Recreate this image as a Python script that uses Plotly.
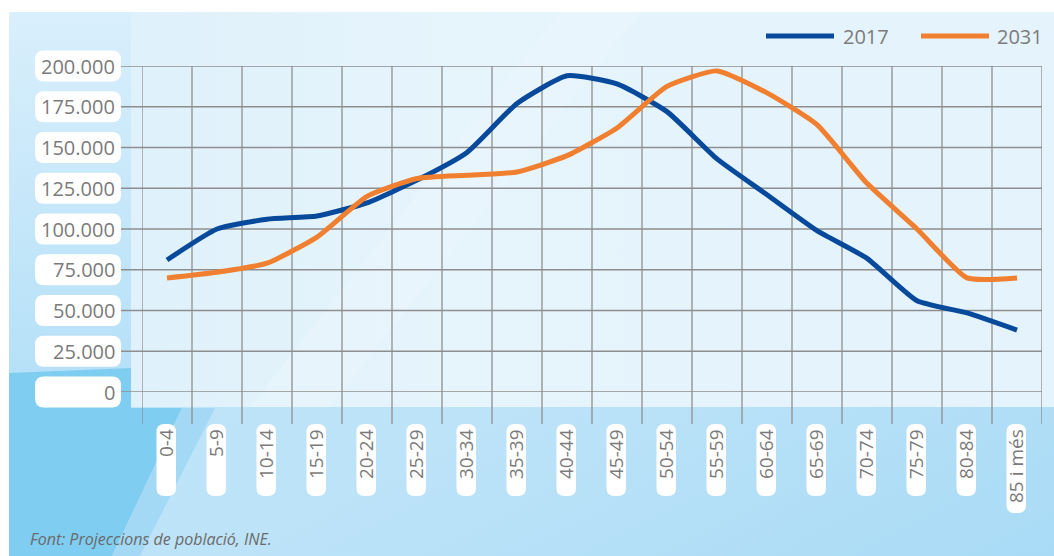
import base64
import plotly.graph_objects as go

# ---------------- data ----------------
categories = ["0-4", "5-9", "10-14", "15-19", "20-24", "25-29", "30-34", "35-39",
              "40-44", "45-49", "50-54", "55-59", "60-64", "65-69", "70-74",
              "75-79", "80-84", "85 i més"]
pop_2017 = [81000, 100000, 106000, 108000, 116000, 130000, 147000, 177000, 194000,
            189000, 172000, 143000, 121000, 99000, 82000, 56000, 48500, 38000]
pop_2031 = [70000, 73500, 79000, 95000, 120000, 131000, 133000, 135000, 145000,
            162000, 187500, 197000, 183500, 164000, 128000, 100000, 70000, 70000]
series_names = ["2017", "2031"]
y_ticks = [0, 25000, 50000, 75000, 100000, 125000, 150000, 175000, 200000]
y_tick_labels = ["0", "25.000", "50.000", "75.000", "100.000", "125.000",
                 "150.000", "175.000", "200.000"]
source_text = "Font: Projeccions de població, INE."

# ---------------- layout constants ----------------
W, H = 1054, 556
ML, MR, MT, MB = 142, 12, 66, 164
PW, PH = W - ML - MR, H - MT - MB
Y_MAX = 200000
BLUE = "#07499a"
ORANGE = "#f07f2f"
GRID = "#8e8e8e"
TXT = "#7b7b7b"
FONT = "Open Sans"


def px_x(p):
    return (p - ML) / PW


def px_y(p):
    return (H - MB - p) / PH


def rbox(x0, x1, y0, y1, rx, ry):
    return (f"M {x0 + rx},{y0} L {x1 - rx},{y0} Q {x1},{y0} {x1},{y0 + ry} "
            f"L {x1},{y1 - ry} Q {x1},{y1} {x1 - rx},{y1} L {x0 + rx},{y1} "
            f"Q {x0},{y1} {x0},{y1 - ry} L {x0},{y0 + ry} Q {x0},{y0} {x0 + rx},{y0} Z")


# ---------------- background (svg image) ----------------
svg = f'''<svg xmlns="http://www.w3.org/2000/svg" width="{W}" height="{H}" viewBox="0 0 {W} {H}">
<defs>
<linearGradient id="lc" x1="0" y1="0" x2="0" y2="1">
<stop offset="0" stop-color="#d9effc"/><stop offset="1" stop-color="#b2dff7"/>
</linearGradient>
<linearGradient id="bt" x1="0" y1="0" x2="1" y2="1">
<stop offset="0" stop-color="#c2e6f9"/><stop offset="0.6" stop-color="#bde3f8"/><stop offset="1" stop-color="#a9dbf6"/>
</linearGradient>
<linearGradient id="pn" x1="0" y1="0" x2="1" y2="0">
<stop offset="0" stop-color="#dff1fb"/><stop offset="0.35" stop-color="#e6f4fc"/><stop offset="1" stop-color="#e4f3fc"/>
</linearGradient>
</defs>
<rect width="{W}" height="{H}" fill="#ffffff"/>
<rect x="9" y="12" width="{W - 9}" height="{H - 12}" fill="url(#bt)"/>
<rect x="9" y="12" width="122" height="396" fill="url(#lc)"/>
<polygon points="9,373 131,368 131,408 182,408 112,556 9,556" fill="#80cdf2"/>
<polygon points="182,408 215,408 140,556 112,556" fill="#a4d9f5"/>
<rect x="131" y="12" width="{W - 131}" height="395" fill="url(#pn)"/>
<polygon points="560,12 640,12 330,407 250,407" fill="#ffffff" fill-opacity="0.15"/>
</svg>'''
svg_uri = "data:image/svg+xml;base64," + base64.b64encode(svg.encode("utf-8")).decode("ascii")

fig = go.Figure()

xs = list(range(len(categories)))
for name, vals, col in [(series_names[0], pop_2017, BLUE), (series_names[1], pop_2031, ORANGE)]:
    fig.add_trace(go.Scatter(
        x=xs, y=vals, mode="lines", name=name, showlegend=False,
        line=dict(color=col, width=5, shape="spline", smoothing=0.5),
        customdata=categories, hovertemplate="%{customdata}: %{y:,}<extra>" + name + "</extra>",
    ))

shapes = []
# vertical grid lines at category boundaries (extend below zero)
for i in range(len(categories) + 1):
    shapes.append(dict(type="line", xref="x", yref="paper", x0=i - 0.5, x1=i - 0.5,
                       y0=px_y(424), y1=1, line=dict(color=GRID, width=1.3), layer="below"))
# horizontal grid lines (extend left to label boxes)
for v in y_ticks:
    shapes.append(dict(type="line", xref="paper", yref="y", x0=px_x(120), x1=1,
                       y0=v, y1=v, line=dict(color=GRID, width=1.3), layer="below"))
# y tick label boxes (paper-anchored so they are not clipped by the plot area)
for v in y_ticks:
    shapes.append(dict(type="path", xref="paper", yref="paper", ysizemode="pixel",
                       yanchor=v / Y_MAX,
                       path=rbox(px_x(35), px_x(121), -15.5, 15.5, 9 / PW, 9),
                       fillcolor="#ffffff", line=dict(width=0), layer="below"))
# x tick label boxes
for i, c in enumerate(categories):
    h = 89 if len(c) > 5 else 72
    shapes.append(dict(type="path", xref="x", yref="paper", xsizemode="pixel", xanchor=i,
                       path=rbox(-10.5, 9, px_y(424 + h), px_y(424), 8, 8 / PH),
                       fillcolor="#ffffff", line=dict(width=0), layer="below"))
# legend line samples
shapes.append(dict(type="line", xref="paper", yref="paper", x0=px_x(766), x1=px_x(834),
                   y0=px_y(36), y1=px_y(36), line=dict(color=BLUE, width=5)))
shapes.append(dict(type="line", xref="paper", yref="paper", x0=px_x(921), x1=px_x(989),
                   y0=px_y(36), y1=px_y(36), line=dict(color=ORANGE, width=5)))

annotations = []
for v, lab in zip(y_ticks, y_tick_labels):
    annotations.append(dict(x=px_x(117), xref="paper", y=v, yref="y", text=lab,
                            showarrow=False, xanchor="right", yanchor="middle",
                            font=dict(family=FONT, size=20, color=TXT)))
for i, c in enumerate(categories):
    annotations.append(dict(x=i - 0.02, xref="x", y=px_y(427), yref="paper", text=c,
                            showarrow=False, textangle=-90, xanchor="center", yanchor="top",
                            font=dict(family=FONT, size=19, color=TXT)))
annotations.append(dict(x=px_x(841), xref="paper", y=px_y(36), yref="paper",
                        text=series_names[0], showarrow=False, xanchor="left", yanchor="middle",
                        font=dict(family=FONT, size=20, color=TXT)))
annotations.append(dict(x=px_x(995), xref="paper", y=px_y(36), yref="paper",
                        text=series_names[1], showarrow=False, xanchor="left", yanchor="middle",
                        font=dict(family=FONT, size=20, color=TXT)))
annotations.append(dict(x=px_x(28), xref="paper", y=px_y(539), yref="paper",
                        text="<i>" + source_text + "</i>", showarrow=False,
                        xanchor="left", yanchor="middle",
                        font=dict(family=FONT, size=16, color="#6a6a6a")))

fig.update_layout(
    width=W, height=H,
    margin=dict(l=ML, r=MR, t=MT, b=MB, pad=0),
    paper_bgcolor="#ffffff", plot_bgcolor="rgba(0,0,0,0)",
    xaxis=dict(range=[-0.5, len(categories) - 0.5], showgrid=False, zeroline=False,
               showticklabels=False, showline=False, fixedrange=True),
    yaxis=dict(range=[0, Y_MAX], showgrid=False, zeroline=False,
               showticklabels=False, showline=False, fixedrange=True),
    shapes=shapes, annotations=annotations,
    images=[dict(source=svg_uri, xref="paper", yref="paper",
                 x=-ML / PW, y=1 + MT / PH, sizex=W / PW, sizey=H / PH,
                 xanchor="left", yanchor="top", sizing="stretch", layer="below")],
    showlegend=False,
)

fig.write_html("out.html", config={"displayModeBar": False},
               post_script="document.body.style.margin='0px';"
               "document.body.style.overflow='hidden';")
